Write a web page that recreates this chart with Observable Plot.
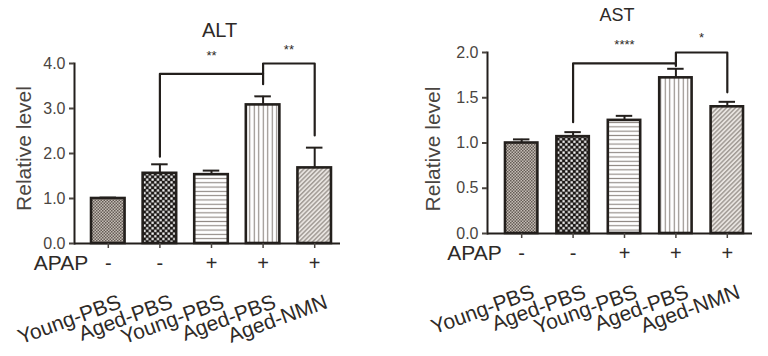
<!DOCTYPE html>
<html>
<head>
<meta charset="utf-8">
<script src="https://cdn.jsdelivr.net/npm/d3@7"></script>
<script src="https://cdn.jsdelivr.net/npm/@observablehq/plot@0.6"></script>
<style>
  html, body { margin: 0; padding: 0; background: #fff; }
  #wrap { display: flex; width: 768px; height: 356px; }
  #wrap > div { width: 384px; height: 356px; }
</style>
</head>
<body>
<svg width="0" height="0" style="position:absolute">
  <defs>
    <pattern id="p-fine" width="3" height="3" patternUnits="userSpaceOnUse">
      <rect width="3" height="3" fill="#c4bcb5"/>
      <rect width="1.5" height="1.5" fill="#655c56"/>
      <rect x="1.5" y="1.5" width="1.5" height="1.5" fill="#655c56"/>
    </pattern>
    <pattern id="p-check" width="5.4" height="5.4" patternUnits="userSpaceOnUse">
      <rect width="5.4" height="5.4" fill="#1c1816"/>
      <rect x="0.3" y="0.3" width="2.2" height="2.2" fill="#fff"/>
      <rect x="3" y="3" width="2.2" height="2.2" fill="#fff"/>
    </pattern>
    <pattern id="p-h" width="10" height="4.3" patternUnits="userSpaceOnUse">
      <rect width="10" height="4.3" fill="#fff"/>
      <rect y="1.6" width="10" height="1.1" fill="#8c8580"/>
    </pattern>
    <pattern id="p-v" width="4.5" height="10" patternUnits="userSpaceOnUse">
      <rect width="4.5" height="10" fill="#fff"/>
      <rect x="1.7" width="1.1" height="10" fill="#8c8580"/>
    </pattern>
    <pattern id="p-d" width="3.2" height="10" patternUnits="userSpaceOnUse" patternTransform="rotate(45)">
      <rect width="3.2" height="10" fill="#e8e4e0"/>
      <rect x="1" width="1.1" height="10" fill="#8a837d"/>
    </pattern>
  </defs>
</svg>
<div id="wrap"><div id="left"></div><div id="right"></div></div>
<script>
// ---- data ----
const categories = ["Young-PBS", "Aged-PBS", "Young-PBS", "Aged-PBS", "Aged-NMN"];
const apap = ["-", "-", "+", "+", "+"];
const altMean = [1.00, 1.56, 1.53, 3.08, 1.68];
const altErr  = [0.02, 0.20, 0.09, 0.19, 0.45];
const astMean = [1.00, 1.07, 1.25, 1.72, 1.40];
const astErr  = [0.04, 0.05, 0.05, 0.10, 0.055];
const altTicks = [0, 1, 2, 3, 4];
const astTicks = [0, 0.5, 1, 1.5, 2];
// significance brackets: from group i to group j
const altBrackets = [
  {i: 1, j: 3, y: 3.77, yi: 1.93, yj: 3.54, label: "**", ly: 4.18},
  {i: 3, j: 4, y: 4.00, yi: 3.77, yj: 2.40, label: "**", ly: 4.31}
];
const astBrackets = [
  {i: 1, j: 3, y: 1.88, yi: 1.23, yj: 1.85, label: "****", ly: 2.09},
  {i: 3, j: 4, y: 2.00, yi: 1.86, yj: 1.56, label: "*", ly: 2.16}
];

// ---- styles ----
const patterns = ["url(#p-fine)", "url(#p-check)", "url(#p-h)", "url(#p-v)", "url(#p-d)"];
const ink = "#231f1c";
const textInk = "#2e2a27";
const tickInk = "#4a4541";
const font = "'Liberation Sans', Arial, Helvetica, sans-serif";

function makeChart(o) {
  const data = categories.map((c, i) => ({i, label: c, apap: apap[i], mean: o.means[i], err: o.errs[i], fill: patterns[i]}));
  const lines = o.brackets.flatMap((b, k) => [
    {k, x: b.i, y: b.yi}, {k, x: b.i, y: b.y}, {k, x: b.j, y: b.y}, {k, x: b.j, y: b.yj}
  ]);
  const w = o.barW;
  return Plot.plot({
    width: 384, height: 356,
    marginLeft: o.ml, marginRight: o.mr, marginTop: o.mt, marginBottom: o.mb,
    x: {domain: o.xDomain},
    y: {domain: o.yDomain},
    color: {type: "identity"},
    style: {fontFamily: font, background: "transparent", overflow: "visible", color: textInk},
    marks: [
      Plot.rectY(data, {x1: d => d.i - w / 2, x2: d => d.i + w / 2, y: "mean", fill: "fill", stroke: ink, strokeWidth: 2.6}),
      Plot.ruleX(data, {x: "i", y1: "mean", y2: d => d.mean + d.err, stroke: ink, strokeWidth: 2}),
      Plot.ruleY(data, {y: d => d.mean + d.err, x1: d => d.i - 0.16, x2: d => d.i + 0.16, stroke: ink, strokeWidth: 2}),
      Plot.ruleY([0], {stroke: ink, strokeWidth: 2}),
      Plot.frame({anchor: "left", stroke: ink, strokeWidth: 2}),
      Plot.axisY({ticks: o.yTicks, tickFormat: ".1f", tickSize: 5, tickPadding: 4, fontSize: 16, color: tickInk, strokeWidth: 2, label: null}),
      Plot.axisX({ticks: categories.map((c, i) => i), tickSize: 5, tickFormat: () => "", color: tickInk, strokeWidth: 1.5, label: null}),
      Plot.line(lines, {x: "x", y: "y", z: "k", stroke: ink, strokeWidth: 2.2}),
      Plot.text(o.brackets, {x: b => (b.i + b.j) / 2, y: "ly", text: "label", fontSize: 13, fill: textInk}),
      Plot.text([o.title], {frameAnchor: "top", lineAnchor: "middle", dx: o.tdx, dy: o.tdy, fontSize: o.tfs, fill: textInk}),
      Plot.text(["Relative level"], {frameAnchor: "left", textAnchor: "middle", lineAnchor: "middle", rotate: -90, dx: o.ldx, dy: o.ldy, fontSize: 21, fill: tickInk}),
      Plot.text(data, {x: "i", text: "apap", frameAnchor: "bottom", lineAnchor: "middle", dy: 20, fontSize: 20, fill: textInk}),
      Plot.text(["APAP"], {x: () => 0, frameAnchor: "bottom", lineAnchor: "middle", dy: 20, dx: -20, textAnchor: "end", fontSize: 21, fill: textInk}),
      Plot.text(data, {x: "i", text: "label", frameAnchor: "bottom", rotate: -20, textAnchor: "end", lineAnchor: "bottom", dx: 14, dy: 64, fontSize: 21, fill: textInk})
    ]
  });
}

document.getElementById("left").append(makeChart({
  means: altMean, errs: altErr, brackets: altBrackets, yDomain: [0, 4], yTicks: altTicks,
  xDomain: [-0.655, 4.5], barW: 0.65, ml: 74, mr: 44, mt: 63, mb: 113,
  title: "ALT", tdx: 12, tdy: -33, tfs: 20, ldx: -50, ldy: -5
}));
document.getElementById("right").append(makeChart({
  means: astMean, errs: astErr, brackets: astBrackets, yDomain: [0, 2], yTicks: astTicks,
  xDomain: [-0.665, 4.49], barW: 0.63, ml: 103, mr: 16, mt: 52, mb: 123,
  title: "AST", tdx: -3, tdy: -37, tfs: 18, ldx: -54, ldy: 6
}));
</script>
</body>
</html>
